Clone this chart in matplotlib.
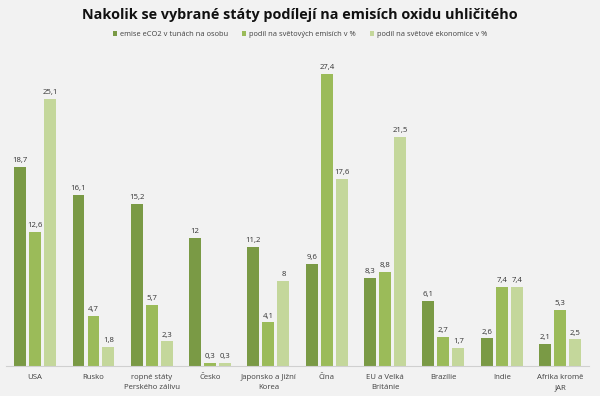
import matplotlib
matplotlib.use("Agg")
import matplotlib.pyplot as plt
import numpy as np

categories = ["USA", "Rusko", "ropné státy\nPerského zálivu", "Česko", "Japonsko a Jižní\nKorea",
              "Čína", "EU a Velká\nBritánie", "Brazílie", "Indie", "Afrika kromě\nJAR"]
series_names = ["emise eCO2 v tunách na osobu", "podíl na světových emisích v %",
                "podíl na světové ekonomice v %"]
emise = [18.7, 16.1, 15.2, 12, 11.2, 9.6, 8.3, 6.1, 2.6, 2.1]
podil_emisi = [12.6, 4.7, 5.7, 0.3, 4.1, 27.4, 8.8, 2.7, 7.4, 5.3]
podil_ekonomiky = [25.1, 1.8, 2.3, 0.3, 8, 17.6, 21.5, 1.7, 7.4, 2.5]

colors = ["#7a9a45", "#9bbb59", "#c4d79b"]
bg = "#f2f2f2"

fig = plt.figure(figsize=(6, 3.96), dpi=100, facecolor=bg)
ax = fig.add_axes([0.01, 0.0758, 0.972, 0.78])
ax.set_facecolor(bg)

x = np.arange(len(categories))
w = 0.205
step = 0.257
for i, (vals, c, name) in enumerate(zip([emise, podil_emisi, podil_ekonomiky], colors, series_names)):
    pos = x + (i - 1) * step
    ax.bar(pos, vals, width=w, color=c, label=name)
    for p, v in zip(pos, vals):
        txt = (f"{v:g}").replace(".", ",")
        ax.annotate(txt, (p, v), xytext=(0, 2), textcoords="offset points",
                    ha="center", va="bottom", fontsize=5.6, color="#333333",
                    fontfamily="Open Sans")

ax.set_xlim(-0.5, len(categories) - 0.5)
ax.set_ylim(0, 29)
ax.set_yticks([])
ax.set_xticks(x)
ax.set_xticklabels(categories, fontsize=5.6, color="#404040", fontfamily="Open Sans", linespacing=1.6)
ax.tick_params(axis="x", length=0, pad=6)
for s in ["top", "right", "left"]:
    ax.spines[s].set_visible(False)
ax.spines["bottom"].set_color("#d0d0d0")

fig.text(0.5, 0.962, "Nakolik se vybrané státy podílejí na emisích oxidu uhličitého",
         ha="center", va="center", fontsize=10.4, fontweight="bold", color="#111111",
         fontfamily="Open Sans")
fig.legend(loc="center", bbox_to_anchor=(0.5, 0.912), ncol=3, frameon=False,
           prop={"family": "Open Sans", "size": 5.4}, handlelength=0.6, handleheight=0.6,
           handletextpad=0.4, columnspacing=1.8, labelcolor="#404040")

fig.savefig("out.png", dpi=100, facecolor=bg)
